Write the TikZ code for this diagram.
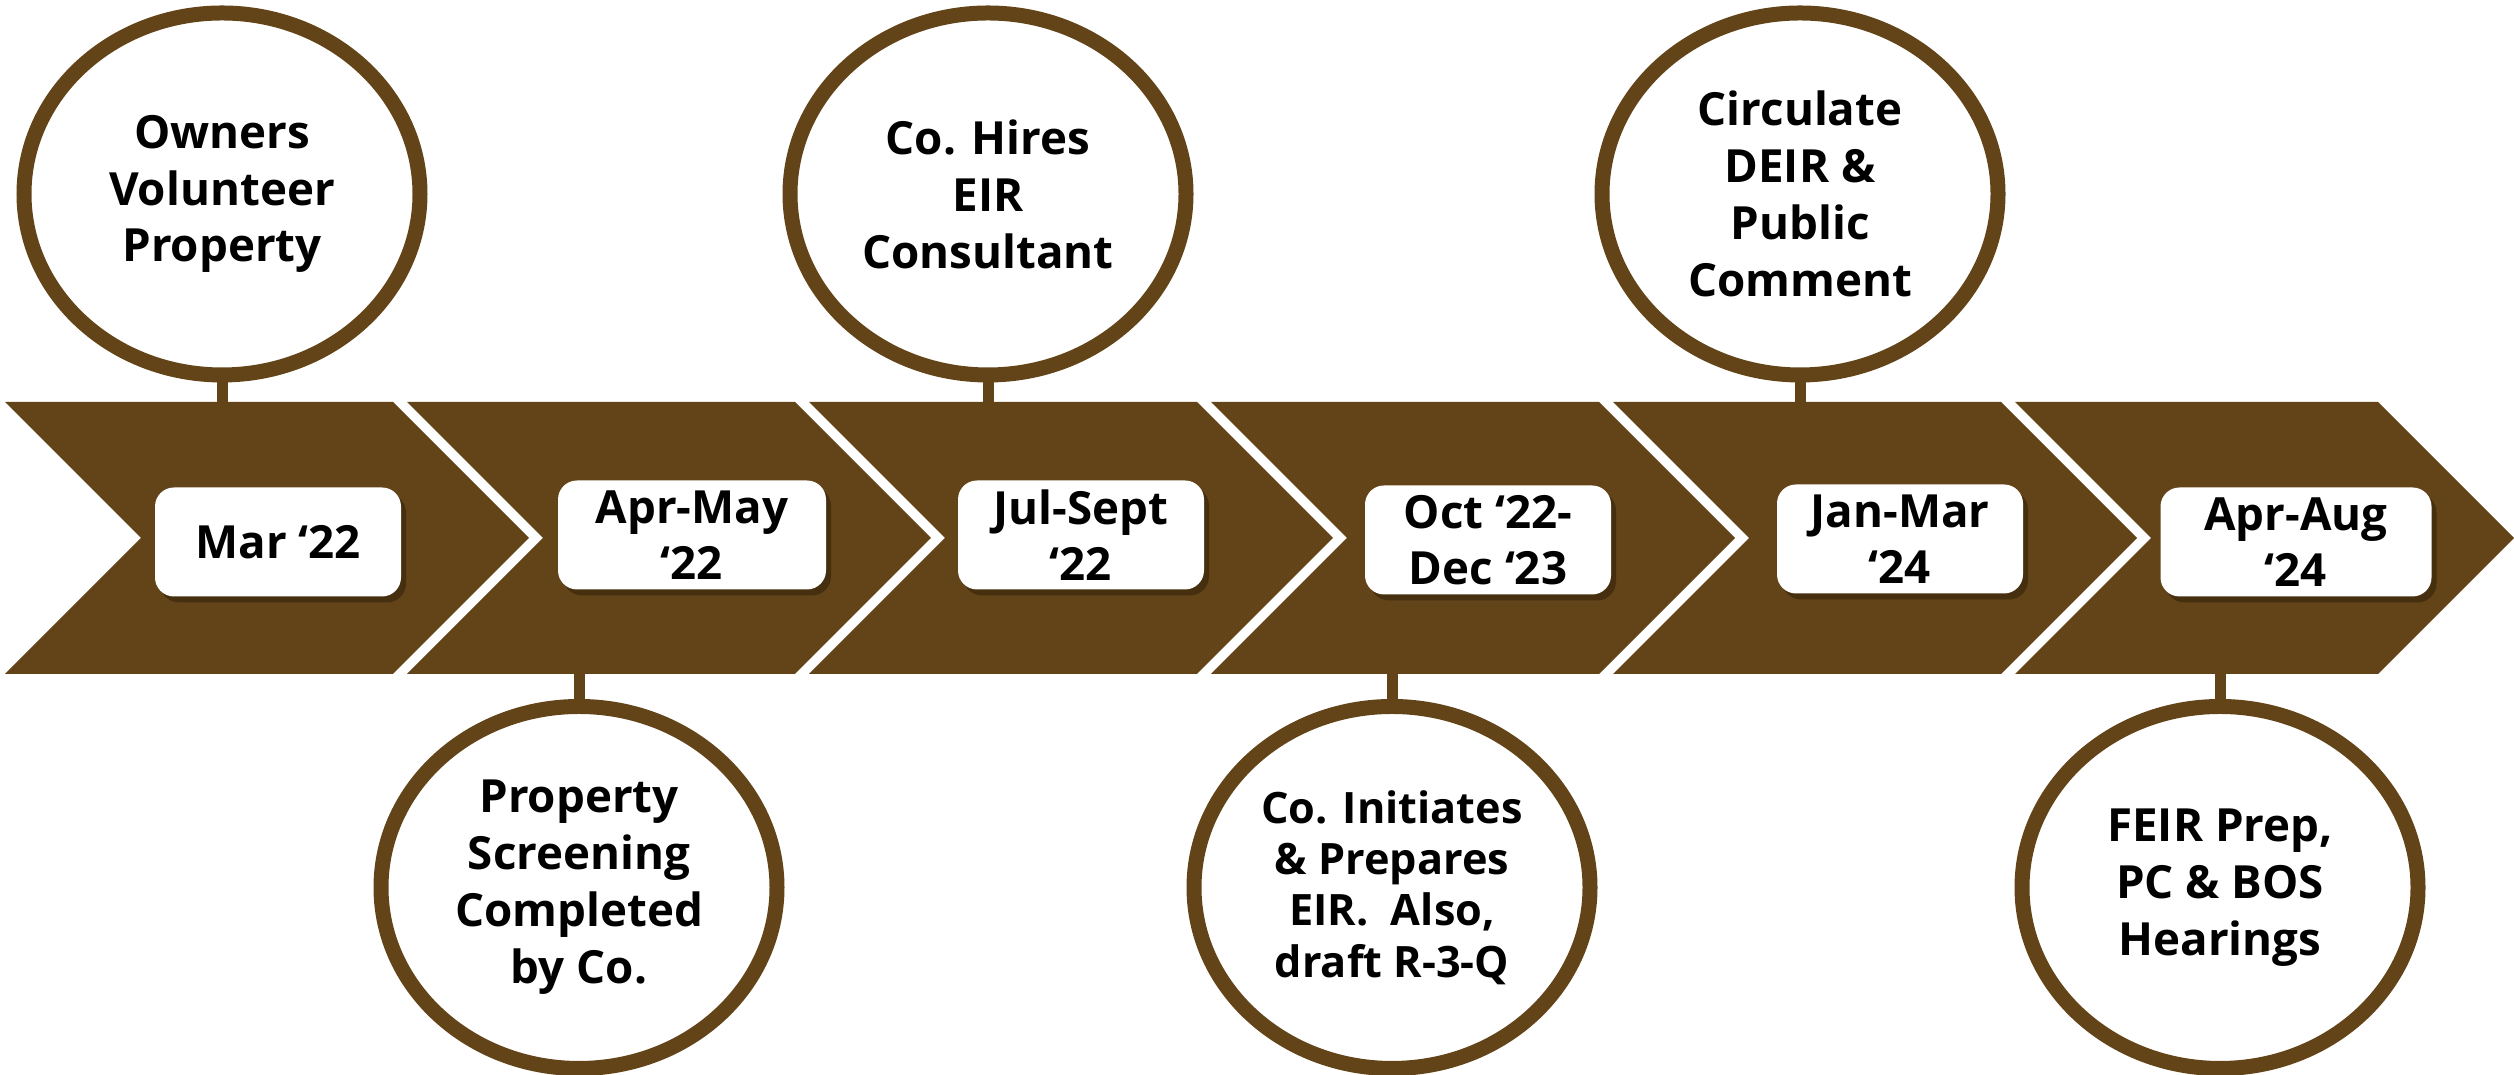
\documentclass[tikz,border=0pt]{standalone}
\usepackage{fontspec}
\setmainfont{Open Sans}
\usepackage{tikz}
\usetikzlibrary{shapes.geometric,shadows,calc}
\usepackage{xcolor}
\definecolor{tlBrown}{HTML}{634418}
\definecolor{tlShadow}{HTML}{2A1C08}
\tikzset{
    tlMilestone/.style={
        ellipse,
        draw=tlBrown,
        line width=0.15cm,
        fill=white,
        minimum width=3.96cm,
        minimum height=3.62cm,
        inner sep=0pt,
        align=center,
        font=\fontsize{13}{16.2}\selectfont\bfseries
    },
    tlDate/.style={
        rectangle,
        rounded corners=0.19cm,
        fill=white,
        minimum width=2.46cm,
        minimum height=1.09cm,
        inner sep=0pt,
        align=center,
        font=\fontsize{13}{15.8}\selectfont\bfseries,
        drop shadow={shadow xshift=0.05cm, shadow yshift=-0.06cm, opacity=0.5, fill=tlShadow}
    },
    tlChevron/.style={fill=tlBrown},
    tlStem/.style={draw=tlBrown, line width=0.11cm, shorten <=-0.04cm, shorten >=-0.02cm}
}

\begin{document}
\begin{tikzpicture}
    \useasboundingbox (0,0) rectangle (25.14,10.75);

    % Chevron band
    \coordinate (bandTop) at (0,6.73);
    \coordinate (bandBottom) at (0,4.01);
    \foreach \xa/\xb in {0.05/3.93, 4.07/7.95, 8.09/11.97, 12.11/15.99, 16.13/20.01, 20.15/23.78}
        \fill[tlChevron] (\xa,4.01) -- ++(1.36,1.36) -- (\xa,6.73) -- (\xb,6.73)
            -- ++(1.36,-1.36) -- (\xb,4.01) -- cycle;

    % Milestones above and below the band
    \node[tlMilestone] (owners) at (2.22,8.81) {Owners\\Volunteer\\Property};
    \node[tlMilestone] (screening) at (5.79,1.875) {Property\\Screening\\Completed\\by Co.};
    \node[tlMilestone] (hires) at (9.88,8.81) {Co. Hires\\EIR\\Consultant};
    \node[tlMilestone, font=\fontsize{12.3}{14.6}\selectfont\bfseries] (prepares) at (13.92,1.875) {Co. Initiates\\\& Prepares\\EIR.~ Also,\\draft R-3-Q};
    \node[tlMilestone] (circulate) at (18.00,8.81) {Circulate\\DEIR \&\\Public\\Comment};
    \node[tlMilestone] (hearings) at (22.20,1.875) {FEIR Prep,\\PC \& BOS\\Hearings};

    % Stems
    \draw[tlStem] (owners.south) -- (owners.south |- bandTop);
    \draw[tlStem] (hires.south) -- (hires.south |- bandTop);
    \draw[tlStem] (circulate.south) -- (circulate.south |- bandTop);
    \draw[tlStem] (screening.north) -- (screening.north |- bandBottom);
    \draw[tlStem] (prepares.north) -- (prepares.north |- bandBottom);
    \draw[tlStem] (hearings.north) -- (hearings.north |- bandBottom);

    % Dates
    \node[tlDate] (mar22) at (2.78,5.33) {Mar ‘22};
    \node[tlDate, minimum width=2.68cm] (aprmay22) at (6.92,5.40) {Apr-May\\‘22};
    \node[tlDate] (julsep22) at (10.81,5.40) {Jul-Sept\\‘22};
    \node[tlDate] (oct22dec23) at (14.88,5.35) {Oct ‘22-\\Dec ‘23};
    \node[tlDate] (janmar24) at (19.00,5.36) {Jan-Mar\\‘24};
    \node[tlDate, minimum width=2.71cm] (apraug24) at (22.96,5.33) {Apr-Aug\\‘24};

\end{tikzpicture}
\end{document}
